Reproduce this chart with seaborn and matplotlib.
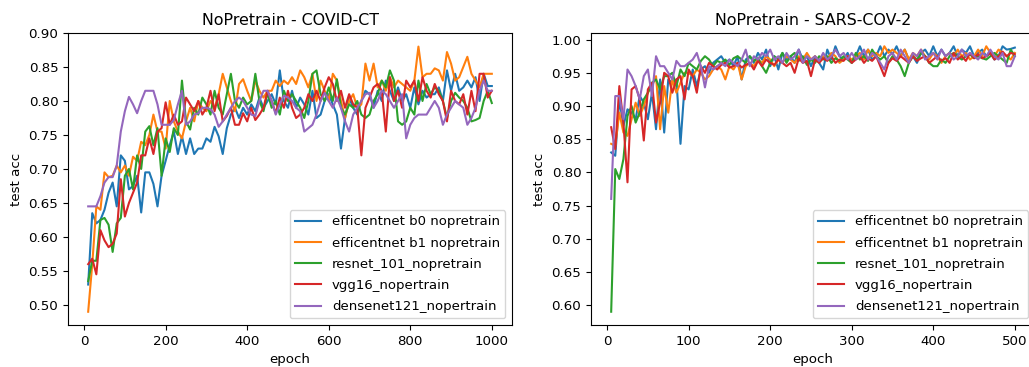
import numpy as np
import pandas as pd
import matplotlib
matplotlib.use("Agg")
import matplotlib.pyplot as plt
import seaborn as sns

models = ["efficentnet b0 nopretrain", "efficentnet b1 nopretrain",
          "resnet_101_nopretrain", "vgg16_nopertrain", "densenet121_nopertrain"]

# ---------------- COVID-CT (epochs 10..1000, step 10) ----------------
ct_epochs = list(range(10, 1001, 10))
ct_b0 = [0.530, 0.635, 0.620, 0.625, 0.640, 0.665, 0.680, 0.645, 0.720, 0.712,
         0.670, 0.675, 0.690, 0.636, 0.695, 0.695, 0.678, 0.645, 0.690, 0.712,
         0.735, 0.755, 0.722, 0.748, 0.722, 0.745, 0.722, 0.730, 0.730, 0.745,
         0.740, 0.762, 0.748, 0.722, 0.760, 0.780, 0.790, 0.775, 0.790, 0.780,
         0.795, 0.785, 0.805, 0.790, 0.800, 0.810, 0.795, 0.845, 0.800, 0.790,
         0.815, 0.790, 0.805, 0.795, 0.780, 0.815, 0.775, 0.780, 0.800, 0.810,
         0.795, 0.780, 0.730, 0.775, 0.805, 0.790, 0.780, 0.800, 0.815, 0.810,
         0.790, 0.815, 0.800, 0.830, 0.815, 0.800, 0.820, 0.800, 0.810, 0.790,
         0.820, 0.795, 0.815, 0.805, 0.810, 0.810, 0.820, 0.800, 0.845, 0.815,
         0.840, 0.815, 0.820, 0.830, 0.820, 0.835, 0.800, 0.840, 0.822, 0.822]
ct_b1 = [0.490, 0.560, 0.645, 0.640, 0.695, 0.688, 0.690, 0.705, 0.695, 0.705,
         0.690, 0.718, 0.712, 0.740, 0.735, 0.750, 0.780, 0.755, 0.755, 0.730,
         0.800, 0.770, 0.755, 0.745, 0.770, 0.790, 0.770, 0.800, 0.790, 0.785,
         0.800, 0.790, 0.810, 0.840, 0.820, 0.800, 0.785, 0.825, 0.832, 0.815,
         0.800, 0.830, 0.815, 0.805, 0.815, 0.815, 0.830, 0.822, 0.830, 0.825,
         0.835, 0.825, 0.845, 0.835, 0.820, 0.840, 0.800, 0.830, 0.815, 0.800,
         0.840, 0.830, 0.800, 0.775, 0.800, 0.810, 0.790, 0.795, 0.855, 0.830,
         0.855, 0.820, 0.830, 0.815, 0.835, 0.820, 0.830, 0.825, 0.820, 0.815,
         0.830, 0.880, 0.835, 0.840, 0.840, 0.848, 0.845, 0.830, 0.872, 0.855,
         0.830, 0.835, 0.850, 0.865, 0.840, 0.830, 0.820, 0.840, 0.840, 0.840]
ct_res = [0.535, 0.565, 0.565, 0.625, 0.628, 0.618, 0.578, 0.620, 0.628, 0.690,
          0.700, 0.670, 0.720, 0.700, 0.755, 0.763, 0.735, 0.760, 0.690, 0.745,
          0.725, 0.760, 0.750, 0.830, 0.770, 0.758, 0.790, 0.780, 0.805, 0.795,
          0.780, 0.815, 0.790, 0.780, 0.810, 0.840, 0.800, 0.790, 0.805, 0.795,
          0.800, 0.840, 0.800, 0.785, 0.812, 0.790, 0.800, 0.780, 0.815, 0.800,
          0.810, 0.800, 0.790, 0.775, 0.800, 0.840, 0.845, 0.810, 0.800, 0.820,
          0.800, 0.832, 0.790, 0.780, 0.795, 0.790, 0.800, 0.780, 0.775, 0.780,
          0.800, 0.810, 0.830, 0.820, 0.845, 0.830, 0.770, 0.765, 0.770, 0.790,
          0.780, 0.830, 0.800, 0.825, 0.810, 0.820, 0.815, 0.800, 0.775, 0.800,
          0.812, 0.805, 0.800, 0.790, 0.770, 0.772, 0.775, 0.800, 0.815, 0.797]
ct_vgg = [0.560, 0.568, 0.545, 0.610, 0.595, 0.585, 0.590, 0.605, 0.685, 0.630,
          0.650, 0.665, 0.680, 0.720, 0.720, 0.745, 0.722, 0.755, 0.760, 0.798,
          0.765, 0.780, 0.765, 0.770, 0.805, 0.795, 0.785, 0.800, 0.780, 0.790,
          0.815, 0.785, 0.810, 0.770, 0.778, 0.790, 0.765, 0.765, 0.782, 0.770,
          0.790, 0.772, 0.780, 0.790, 0.815, 0.800, 0.782, 0.805, 0.790, 0.815,
          0.790, 0.775, 0.780, 0.790, 0.810, 0.800, 0.815, 0.800, 0.820, 0.835,
          0.825, 0.800, 0.815, 0.790, 0.810, 0.795, 0.790, 0.720, 0.790, 0.805,
          0.820, 0.825, 0.815, 0.755, 0.835, 0.800, 0.815, 0.790, 0.830, 0.820,
          0.830, 0.800, 0.835, 0.815, 0.805, 0.825, 0.810, 0.800, 0.770, 0.815,
          0.800, 0.795, 0.810, 0.780, 0.815, 0.785, 0.840, 0.840, 0.805, 0.815]
ct_dense = [0.645, 0.645, 0.645, 0.660, 0.680, 0.688, 0.688, 0.705, 0.755, 0.785,
            0.806, 0.795, 0.782, 0.800, 0.815, 0.815, 0.815, 0.795, 0.765, 0.765,
            0.765, 0.772, 0.795, 0.815, 0.765, 0.770, 0.780, 0.782, 0.790, 0.790,
            0.788, 0.780, 0.762, 0.770, 0.780, 0.790, 0.800, 0.805, 0.800, 0.790,
            0.780, 0.778, 0.800, 0.815, 0.815, 0.800, 0.780, 0.795, 0.808, 0.805,
            0.800, 0.790, 0.785, 0.755, 0.760, 0.765, 0.780, 0.800, 0.812, 0.800,
            0.790, 0.805, 0.790, 0.770, 0.755, 0.780, 0.790, 0.800, 0.810, 0.812,
            0.790, 0.800, 0.815, 0.810, 0.800, 0.790, 0.800, 0.810, 0.745, 0.765,
            0.775, 0.780, 0.780, 0.780, 0.790, 0.800, 0.790, 0.765, 0.780, 0.790,
            0.800, 0.795, 0.790, 0.765, 0.775, 0.790, 0.815, 0.830, 0.815, 0.815]

# ---------------- SARS-COV-2 (epochs 5..500, step 5) ----------------
sars_epochs = list(range(5, 501, 5))
sars_b0 = [0.830, 0.825, 0.910, 0.870, 0.895, 0.890, 0.880, 0.915, 0.905, 0.880,
           0.920, 0.865, 0.940, 0.860, 0.940, 0.935, 0.940, 0.843, 0.930, 0.925,
           0.955, 0.930, 0.955, 0.960, 0.950, 0.965, 0.970, 0.975, 0.965, 0.970,
           0.960, 0.975, 0.940, 0.970, 0.975, 0.965, 0.980, 0.970, 0.985, 0.960,
           0.975, 0.955, 0.980, 0.970, 0.975, 0.965, 0.985, 0.970, 0.975, 0.960,
           0.975, 0.965, 0.955, 0.985, 0.970, 0.990, 0.975, 0.970, 0.980, 0.965,
           0.975, 0.990, 0.975, 0.985, 0.970, 0.975, 0.990, 0.975, 0.985, 0.978,
           0.990, 0.975, 0.985, 0.970, 0.975, 0.965, 0.980, 0.985, 0.975, 0.990,
           0.975, 0.985, 0.975, 0.980, 0.990, 0.975, 0.985, 0.980, 0.990, 0.975,
           0.980, 0.985, 0.975, 0.980, 0.970, 0.975, 0.990, 0.985, 0.986, 0.988]
sars_b1 = [0.843, 0.840, 0.890, 0.860, 0.855, 0.880, 0.905, 0.885, 0.900, 0.920,
           0.930, 0.945, 0.865, 0.930, 0.890, 0.940, 0.920, 0.935, 0.950, 0.950,
           0.945, 0.955, 0.950, 0.940, 0.945, 0.955, 0.960, 0.955, 0.940, 0.960,
           0.955, 0.965, 0.940, 0.960, 0.965, 0.960, 0.970, 0.965, 0.975, 0.970,
           0.960, 0.970, 0.965, 0.975, 0.970, 0.965, 0.975, 0.970, 0.980, 0.970,
           0.975, 0.968, 0.975, 0.970, 0.980, 0.975, 0.965, 0.970, 0.975, 0.970,
           0.975, 0.980, 0.970, 0.985, 0.975, 0.980, 0.975, 0.990, 0.980, 0.985,
           0.980, 0.975, 0.985, 0.970, 0.980, 0.975, 0.985, 0.975, 0.970, 0.980,
           0.975, 0.965, 0.975, 0.980, 0.975, 0.985, 0.975, 0.980, 0.970, 0.975,
           0.985, 0.975, 0.990, 0.980, 0.975, 0.985, 0.980, 0.975, 0.970, 0.980]
sars_res = [0.590, 0.805, 0.790, 0.820, 0.885, 0.900, 0.875, 0.890, 0.910, 0.920,
            0.935, 0.940, 0.925, 0.945, 0.945, 0.950, 0.930, 0.955, 0.945, 0.965,
            0.960, 0.955, 0.968, 0.975, 0.970, 0.960, 0.968, 0.965, 0.970, 0.962,
            0.972, 0.975, 0.970, 0.965, 0.975, 0.968, 0.972, 0.960, 0.950, 0.965,
            0.975, 0.970, 0.980, 0.965, 0.975, 0.980, 0.968, 0.975, 0.962, 0.970,
            0.965, 0.975, 0.970, 0.975, 0.965, 0.972, 0.968, 0.975, 0.970, 0.965,
            0.980, 0.970, 0.975, 0.968, 0.985, 0.975, 0.970, 0.975, 0.965, 0.975,
            0.970, 0.960, 0.945, 0.965, 0.975, 0.970, 0.980, 0.975, 0.965, 0.960,
            0.960, 0.970, 0.965, 0.975, 0.980, 0.975, 0.970, 0.975, 0.978, 0.972,
            0.975, 0.972, 0.970, 0.975, 0.980, 0.975, 0.970, 0.965, 0.985, 0.975]
sars_vgg = [0.868, 0.835, 0.930, 0.875, 0.785, 0.925, 0.930, 0.910, 0.848, 0.925,
            0.935, 0.875, 0.905, 0.950, 0.945, 0.920, 0.940, 0.945, 0.910, 0.955,
            0.945, 0.920, 0.960, 0.950, 0.965, 0.960, 0.955, 0.962, 0.965, 0.958,
            0.960, 0.965, 0.958, 0.962, 0.965, 0.955, 0.968, 0.960, 0.970, 0.965,
            0.962, 0.970, 0.965, 0.960, 0.965, 0.950, 0.972, 0.965, 0.968, 0.945,
            0.970, 0.965, 0.972, 0.968, 0.975, 0.965, 0.970, 0.968, 0.975, 0.965,
            0.970, 0.975, 0.965, 0.972, 0.968, 0.975, 0.960, 0.945, 0.965, 0.972,
            0.968, 0.975, 0.970, 0.965, 0.975, 0.968, 0.972, 0.975, 0.965, 0.970,
            0.975, 0.968, 0.972, 0.965, 0.980, 0.970, 0.975, 0.968, 0.980, 0.972,
            0.978, 0.972, 0.975, 0.980, 0.970, 0.975, 0.982, 0.975, 0.980, 0.978]
sars_dense = [0.760, 0.915, 0.915, 0.880, 0.955, 0.945, 0.930, 0.910, 0.945, 0.955,
              0.915, 0.975, 0.960, 0.960, 0.950, 0.940, 0.968, 0.960, 0.960, 0.965,
              0.970, 0.980, 0.960, 0.928, 0.960, 0.955, 0.960, 0.965, 0.960, 0.970,
              0.965, 0.960, 0.970, 0.985, 0.960, 0.975, 0.970, 0.980, 0.975, 0.985,
              0.970, 0.975, 0.965, 0.980, 0.970, 0.975, 0.985, 0.965, 0.975, 0.970,
              0.975, 0.968, 0.980, 0.970, 0.975, 0.985, 0.975, 0.980, 0.970, 0.980,
              0.970, 0.975, 0.985, 0.970, 0.980, 0.975, 0.965, 0.955, 0.975, 0.980,
              0.970, 0.985, 0.975, 0.965, 0.980, 0.975, 0.985, 0.970, 0.975, 0.980,
              0.970, 0.985, 0.975, 0.980, 0.970, 0.975, 0.985, 0.975, 0.980, 0.975,
              0.970, 0.980, 0.975, 0.985, 0.975, 0.970, 0.980, 0.960, 0.960, 0.975]


def long_frame(epochs, series):
    frames = []
    for name, vals in zip(models, series):
        frames.append(pd.DataFrame({"epoch": epochs, "acc": vals, "model": name}))
    return pd.concat(frames, ignore_index=True)


df_ct = long_frame(ct_epochs, [ct_b0, ct_b1, ct_res, ct_vgg, ct_dense])
df_sars = long_frame(sars_epochs, [sars_b0, sars_b1, sars_res, sars_vgg, sars_dense])

palette = sns.color_palette("tab10", 5)

fig = plt.figure(figsize=(10.29, 3.67), dpi=100)
W, H = 1029.0, 367.0
ax1 = fig.add_axes([68 / W, 42 / H, 444 / W, 292 / H])
ax2 = fig.add_axes([591 / W, 42 / H, 444 / W, 292 / H])

for ax, df, title in [(ax1, df_ct, "NoPretrain - COVID-CT"),
                      (ax2, df_sars, "NoPretrain - SARS-COV-2")]:
    sns.lineplot(data=df, x="epoch", y="acc", hue="model", hue_order=models,
                 palette=palette, estimator=None, linewidth=1.5, ax=ax)
    ax.set_title(title, fontsize=11.4)
    ax.set_xlabel("epoch", fontsize=9.6)
    ax.set_ylabel("test acc", fontsize=9.6)
    ax.tick_params(labelsize=9.6)
    ax.legend(loc="lower right", fontsize=9.5, labelspacing=0.62)

ax1.set_yticks([0.50, 0.55, 0.60, 0.65, 0.70, 0.75, 0.80, 0.85, 0.90])
ax2.set_yticks([0.60, 0.65, 0.70, 0.75, 0.80, 0.85, 0.90, 0.95, 1.00])
ax1.set_xticks([0, 200, 400, 600, 800, 1000])
ax2.set_xticks([0, 100, 200, 300, 400, 500])

fig.savefig("out.png", dpi=100)
